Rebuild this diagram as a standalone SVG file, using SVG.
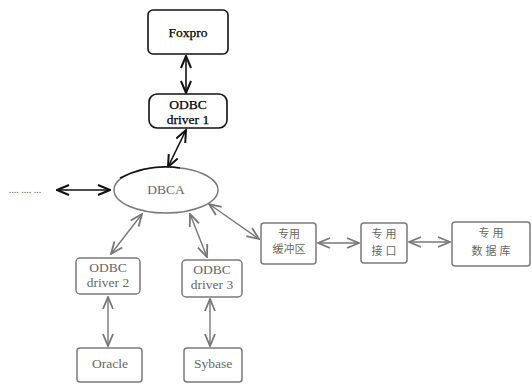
<svg xmlns="http://www.w3.org/2000/svg" width="532" height="384" viewBox="0 0 532 384">
<defs>
<marker id="ak" viewBox="0 0 14 12" refX="13" refY="6" markerWidth="14" markerHeight="12" markerUnits="userSpaceOnUse" orient="auto-start-reverse">
<path d="M1,1 L13,6 L1,11" fill="none" stroke="#111" stroke-width="2"/>
</marker>
<marker id="ag" viewBox="0 0 14 12" refX="13" refY="6" markerWidth="14" markerHeight="12" markerUnits="userSpaceOnUse" orient="auto-start-reverse">
<path d="M1,1 L13,6 L1,11" fill="none" stroke="#777" stroke-width="1.8"/>
</marker>
</defs>
<style>
.bk{fill:#fff;stroke:#111;stroke-width:1.6}
.gy{fill:#fff;stroke:#7a7a7a;stroke-width:1.5}
.tk{font-family:"Liberation Serif",serif;font-size:13.5px;fill:#000;text-anchor:middle;stroke:#000;stroke-width:0.25}
.tg{font-family:"Liberation Serif",serif;font-size:13.5px;fill:#666;text-anchor:middle}
.tc{font-family:"Liberation Sans","Noto Sans CJK SC",sans-serif;font-size:11px;fill:#666;text-anchor:middle}
.ck{stroke:#111;stroke-width:1.6;fill:none;marker-start:url(#ak);marker-end:url(#ak)}
.cg{stroke:#777;stroke-width:1.4;fill:none;marker-start:url(#ag);marker-end:url(#ag)}
</style>
<rect width="532" height="384" fill="#fff"/>
<g id="connectors">
<line class="ck" x1="186" y1="56" x2="186" y2="93"/>
<line class="ck" x1="186" y1="130" x2="168" y2="167"/>
<line class="ck" x1="57" y1="190" x2="110" y2="190"/>
<line class="cg" x1="142" y1="214" x2="111" y2="254"/>
<line class="cg" x1="190" y1="214" x2="207" y2="257"/>
<line class="cg" x1="209" y1="204" x2="259" y2="239"/>
<line class="cg" x1="108" y1="297" x2="108" y2="346"/>
<line class="cg" x1="210" y1="299" x2="210" y2="346"/>
<line class="cg" x1="318" y1="243" x2="359" y2="243"/>
<line class="cg" x1="409" y1="242" x2="450" y2="242"/>
</g>
<g id="ellipsis"><text x="25" y="193" font-family="Liberation Serif,serif" font-size="10" fill="#555" text-anchor="middle">.... .... ...</text></g>
<g id="foxpro">
<rect class="bk" x="148" y="10" width="80" height="44" rx="5"/>
<text class="tk" x="188" y="37">Foxpro</text>
</g>
<g id="odbc1">
<rect class="bk" x="149" y="94" width="78" height="34" rx="8"/>
<text class="tk" x="188" y="109">ODBC</text>
<text class="tk" x="188" y="124">driver 1</text>
</g>
<g id="dbca">
<ellipse class="gy" cx="166" cy="190" rx="52" ry="23"/>
<path d="M120,178 Q150,163 180,168" fill="none" stroke="#111" stroke-width="1.6"/>
<text class="tg" x="166" y="194" font-size="11">DBCA</text>
</g>
<g id="odbc2">
<rect class="gy" x="76" y="258" width="64" height="36" rx="4"/>
<text class="tg" x="108" y="272">ODBC</text>
<text class="tg" x="108" y="287">driver 2</text>
</g>
<g id="odbc3">
<rect class="gy" x="182" y="260" width="60" height="37" rx="4"/>
<text class="tg" x="212" y="274">ODBC</text>
<text class="tg" x="212" y="289">driver 3</text>
</g>
<g id="oracle">
<rect class="gy" x="77" y="348" width="65" height="34" rx="3"/>
<text class="tg" x="110" y="368">Oracle</text>
</g>
<g id="sybase">
<rect class="gy" x="184" y="348" width="58" height="34" rx="3"/>
<text class="tg" x="213" y="368">Sybase</text>
</g>
<g id="buffer">
<rect class="gy" x="261" y="223" width="55" height="41" rx="3"/>
<text class="tc" x="289" y="238">专用</text>
<text class="tc" x="289" y="253">缓冲区</text>
</g>
<g id="interface">
<rect class="gy" x="361" y="223" width="46" height="40" rx="3"/>
<text class="tc" x="384" y="238">专 用</text>
<text class="tc" x="384" y="255">接 口</text>
</g>
<g id="database">
<rect class="gy" x="452" y="222" width="78" height="44" rx="3"/>
<text class="tc" x="491" y="237">专 用</text>
<text class="tc" x="491" y="255">数 据 库</text>
</g>
</svg>
